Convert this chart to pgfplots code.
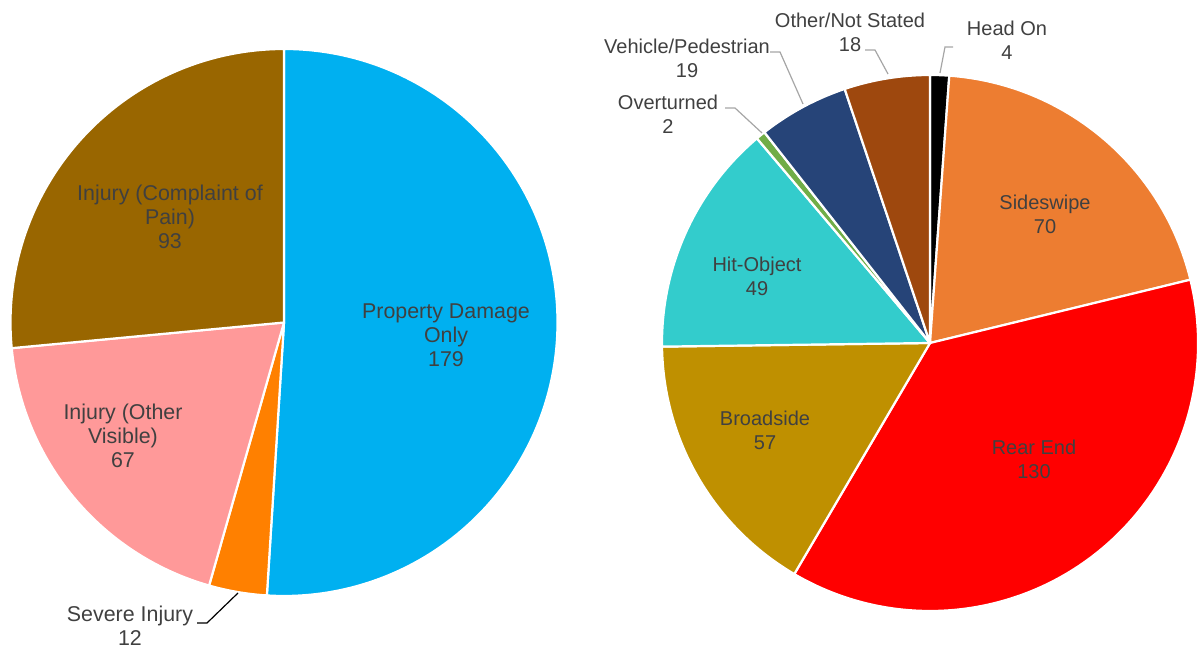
\documentclass[border=0pt]{standalone}
\usepackage{pgfplots}
\usepackage{pgfplotstable}
\pgfplotsset{compat=1.18}
\usepackage{fontspec}
\setmainfont{Liberation Sans}

\definecolor{txtgray}{HTML}{404040}
\definecolor{leadgray}{HTML}{A6A6A6}
\definecolor{cPDO}{HTML}{00B0F0}
\definecolor{cSev}{HTML}{FF8000}
\definecolor{cVis}{HTML}{FF9999}
\definecolor{cPain}{HTML}{996600}
\definecolor{cHead}{HTML}{000000}
\definecolor{cSide}{HTML}{ED7D31}
\definecolor{cRear}{HTML}{FF0000}
\definecolor{cBroad}{HTML}{BF9000}
\definecolor{cHit}{HTML}{33CCCC}
\definecolor{cOver}{HTML}{70AD47}
\definecolor{cPed}{HTML}{264478}
\definecolor{cOther}{HTML}{9E480E}

\tikzset{
  lbl/.style={font=\fontsize{10.7}{12}\selectfont, text=txtgray, align=center, inner sep=0pt},
  rlbl/.style={lbl, font=\fontsize{10}{12}\selectfont},
}

% severity (clockwise from 12 o'clock)
\pgfplotstableread{
value col
179 cPDO
12 cSev
67 cVis
93 cPain
}\lefttbl

% collision type (clockwise from 12 o'clock)
\pgfplotstableread{
value col
4 cHead
70 cSide
130 cRear
57 cBroad
49 cHit
2 cOver
19 cPed
18 cOther
}\righttbl

% #1 table, #2 #3 centre (axis units), #4 radius (axis units, 1 unit = 0.5pt)
\newcommand\drawpie[4]{%
  \pgfplotstablegetrowsof{#1}\pgfmathtruncatemacro\nrows{\pgfplotsretval-1}%
  \gdef\pietotal{0}%
  \foreach \i in {0,...,\nrows}{%
    \pgfplotstablegetelem{\i}{value}\of{#1}%
    \pgfmathsetmacro\tmpsum{\pietotal+\pgfplotsretval}\xdef\pietotal{\tmpsum}}%
  \gdef\pieangle{90}%
  \foreach \i in {0,...,\nrows}{%
    \pgfplotstablegetelem{\i}{value}\of{#1}\let\pval\pgfplotsretval
    \pgfplotstablegetelem{\i}{col}\of{#1}\let\pcol\pgfplotsretval
    \pgfmathsetmacro\pend{\pieangle-360/\pietotal*\pval}%
    \fill[fill=\pcol, draw=white, line width=1.1pt, line join=round]
      (axis cs:#2,#3) -- (axis cs:{#2+#4*cos(\pieangle)},{#3+#4*sin(\pieangle)})
      arc[start angle=\pieangle, end angle=\pend, radius=#4*0.5pt] -- cycle;
    \xdef\pieangle{\pend}}%
}

\begin{document}
\begin{tikzpicture}
\begin{axis}[
  hide axis,
  x=0.5pt, y=0.5pt,
  xmin=0, xmax=1199, ymin=0, ymax=652,
  scale only axis,
  clip=false,
]
\coordinate (ll) at (axis cs:0,0);
\coordinate (ur) at (axis cs:1199,652);
\pgfplotsextra{\drawpie{\lefttbl}{284}{329.5}{273.5}}
\pgfplotsextra{\drawpie{\righttbl}{930}{309}{268}}

% left labels
\node[lbl] at (axis cs:446,317) {Property Damage\\Only\\179};
\node[lbl] at (axis cs:170,435) {Injury (Complaint of\\Pain)\\93};
\node[lbl] at (axis cs:123,216) {Injury (Other\\Visible)\\67};
\node[lbl] at (axis cs:130,26) {Severe Injury\\12};
\draw[black, line width=0.6pt] (axis cs:197,29) -- (axis cs:207,29) -- (axis cs:238,59);

% right labels
\node[rlbl] at (axis cs:1045,438) {Sideswipe\\70};
\node[rlbl] at (axis cs:1034,193) {Rear End\\130};
\node[rlbl] at (axis cs:765,222) {Broadside\\57};
\node[rlbl] at (axis cs:757,376) {Hit-Object\\49};
\node[rlbl] at (axis cs:1007,612) {Head On\\4};
\node[rlbl] at (axis cs:850,620) {Other/Not Stated\\18};
\node[rlbl] at (axis cs:687,594) {Vehicle/Pedestrian\\19};
\node[rlbl] at (axis cs:668,538) {Overturned\\2};
\draw[leadgray, line width=0.6pt] (axis cs:953,605) -- (axis cs:945,605) -- (axis cs:940,579);
\draw[leadgray, line width=0.6pt] (axis cs:865,602) -- (axis cs:875,602) -- (axis cs:888,578);
\draw[leadgray, line width=0.6pt] (axis cs:770,600) -- (axis cs:780,600) -- (axis cs:803,548);
\draw[leadgray, line width=0.6pt] (axis cs:725,544) -- (axis cs:735,544) -- (axis cs:762,519);
\end{axis}
\pgfresetboundingbox
\path (ll) rectangle (ur);
\end{tikzpicture}
\end{document}
